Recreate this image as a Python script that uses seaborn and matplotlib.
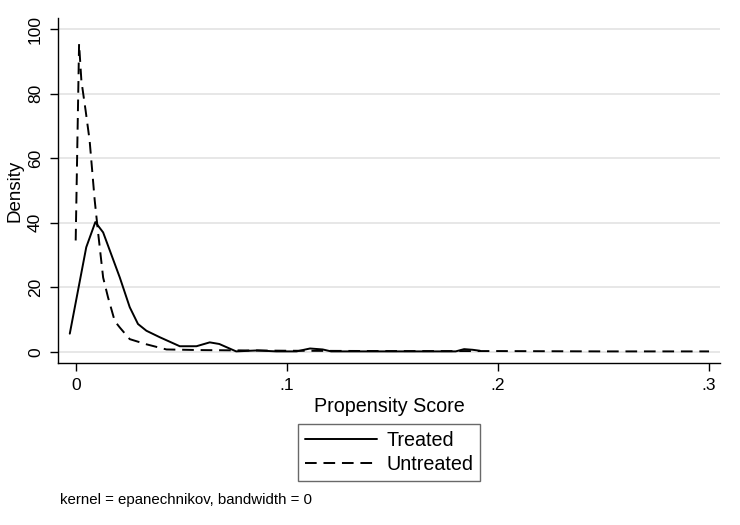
import numpy as np
import pandas as pd
import seaborn as sns
import matplotlib.pyplot as plt

sns.set_theme(style="white")
plt.rcParams['font.family'] = ['Liberation Sans', 'DejaVu Sans']
plt.rcParams['text.color'] = 'black'
plt.rcParams['axes.labelcolor'] = 'black'
plt.rcParams['xtick.color'] = 'black'
plt.rcParams['ytick.color'] = 'black'

treated_x = [-0.0028, 0.005, 0.0093, 0.013, 0.0209, 0.0256, 0.0295, 0.0335, 0.0398,
             0.0493, 0.0572, 0.0635, 0.068, 0.076, 0.086, 0.095, 0.1046, 0.111, 0.117,
             0.121, 0.15, 0.18, 0.184, 0.188, 0.1915]
treated_y = [5.6, 32.4, 40.2, 37.0, 23.0, 13.8, 8.6, 6.5, 4.5,
             1.7, 1.7, 2.9, 2.4, 0.1, 0.4, 0.1, 0.1, 1.0, 0.7,
             0.1, 0.1, 0.1, 0.8, 0.6, 0.3]

untreated_x = [0.0, 0.0016, 0.0027, 0.0047, 0.0066, 0.009, 0.0106, 0.013, 0.0153,
               0.0185, 0.0209, 0.0256, 0.0335, 0.043, 0.06, 0.08, 0.1, 0.15, 0.2,
               0.25, 0.3]
untreated_y = [34.5, 95.5, 84.0, 74.8, 65.5, 47.0, 37.0, 23.0, 16.9,
               9.5, 7.5, 3.9, 2.3, 0.7, 0.5, 0.4, 0.3, 0.2, 0.2,
               0.1, 0.1]

xticks = [0, 0.1, 0.2, 0.3]
xtick_labels = ["0", ".1", ".2", ".3"]
yticks = [0, 20, 40, 60, 80, 100]

fig = plt.figure(figsize=(7.4, 5.25), dpi=100)
ax = fig.add_axes([58.3 / 740, 1 - 363 / 525, (720 - 58.3) / 740, (363 - 18) / 525])

df_t = pd.DataFrame({"x": treated_x, "y": treated_y})
df_u = pd.DataFrame({"x": untreated_x, "y": untreated_y})

sns.lineplot(data=df_t, x="x", y="y", ax=ax, color="black", lw=1.4,
             label="Treated", sort=False)
sns.lineplot(data=df_u, x="x", y="y", ax=ax, color="black", lw=1.4,
             label="Untreated", sort=False)
ax.lines[1].set_dashes((6, 3.5))

ax.set_xlim(-0.00824, 0.3052)
ax.set_ylim(-3.5, 103.5)
ax.set_xticks(xticks)
ax.set_xticklabels(xtick_labels, fontsize=12.5)
ax.set_yticks(yticks)
ax.set_yticklabels([str(v) for v in yticks], fontsize=12.5, rotation=90, va="center")
ax.tick_params(axis="both", direction="out", length=6, width=1, color="black",
               bottom=True, left=True, pad=5)
ax.grid(axis="y", color="#e3e3e3", lw=1.2)
ax.grid(axis="x", visible=False)
for s in ["top", "right"]:
    ax.spines[s].set_visible(False)
for s in ["left", "bottom"]:
    ax.spines[s].set_color("black")
    ax.spines[s].set_linewidth(1)

ax.set_xlabel("Propensity Score", fontsize=14.2, labelpad=3)
ax.set_ylabel("Density", fontsize=13.5, labelpad=3)

ax.get_legend().remove()
h, l = ax.get_legend_handles_labels()
leg = fig.legend(h, l, loc="center", bbox_to_anchor=(389 / 740, 1 - 452.5 / 525),
                 fontsize=14.2, frameon=True, fancybox=False, handlelength=3.65,
                 borderpad=0.35, labelspacing=0.25, handletextpad=0.5,
                 borderaxespad=0)
leg.get_frame().set_edgecolor("#444444")
leg.get_frame().set_linewidth(1)

fig.text(60 / 740, 1 - 500 / 525, "kernel = epanechnikov, bandwidth = 0",
         fontsize=10.8, va="center", ha="left")

fig.savefig("out.png", dpi=100, facecolor="white")
